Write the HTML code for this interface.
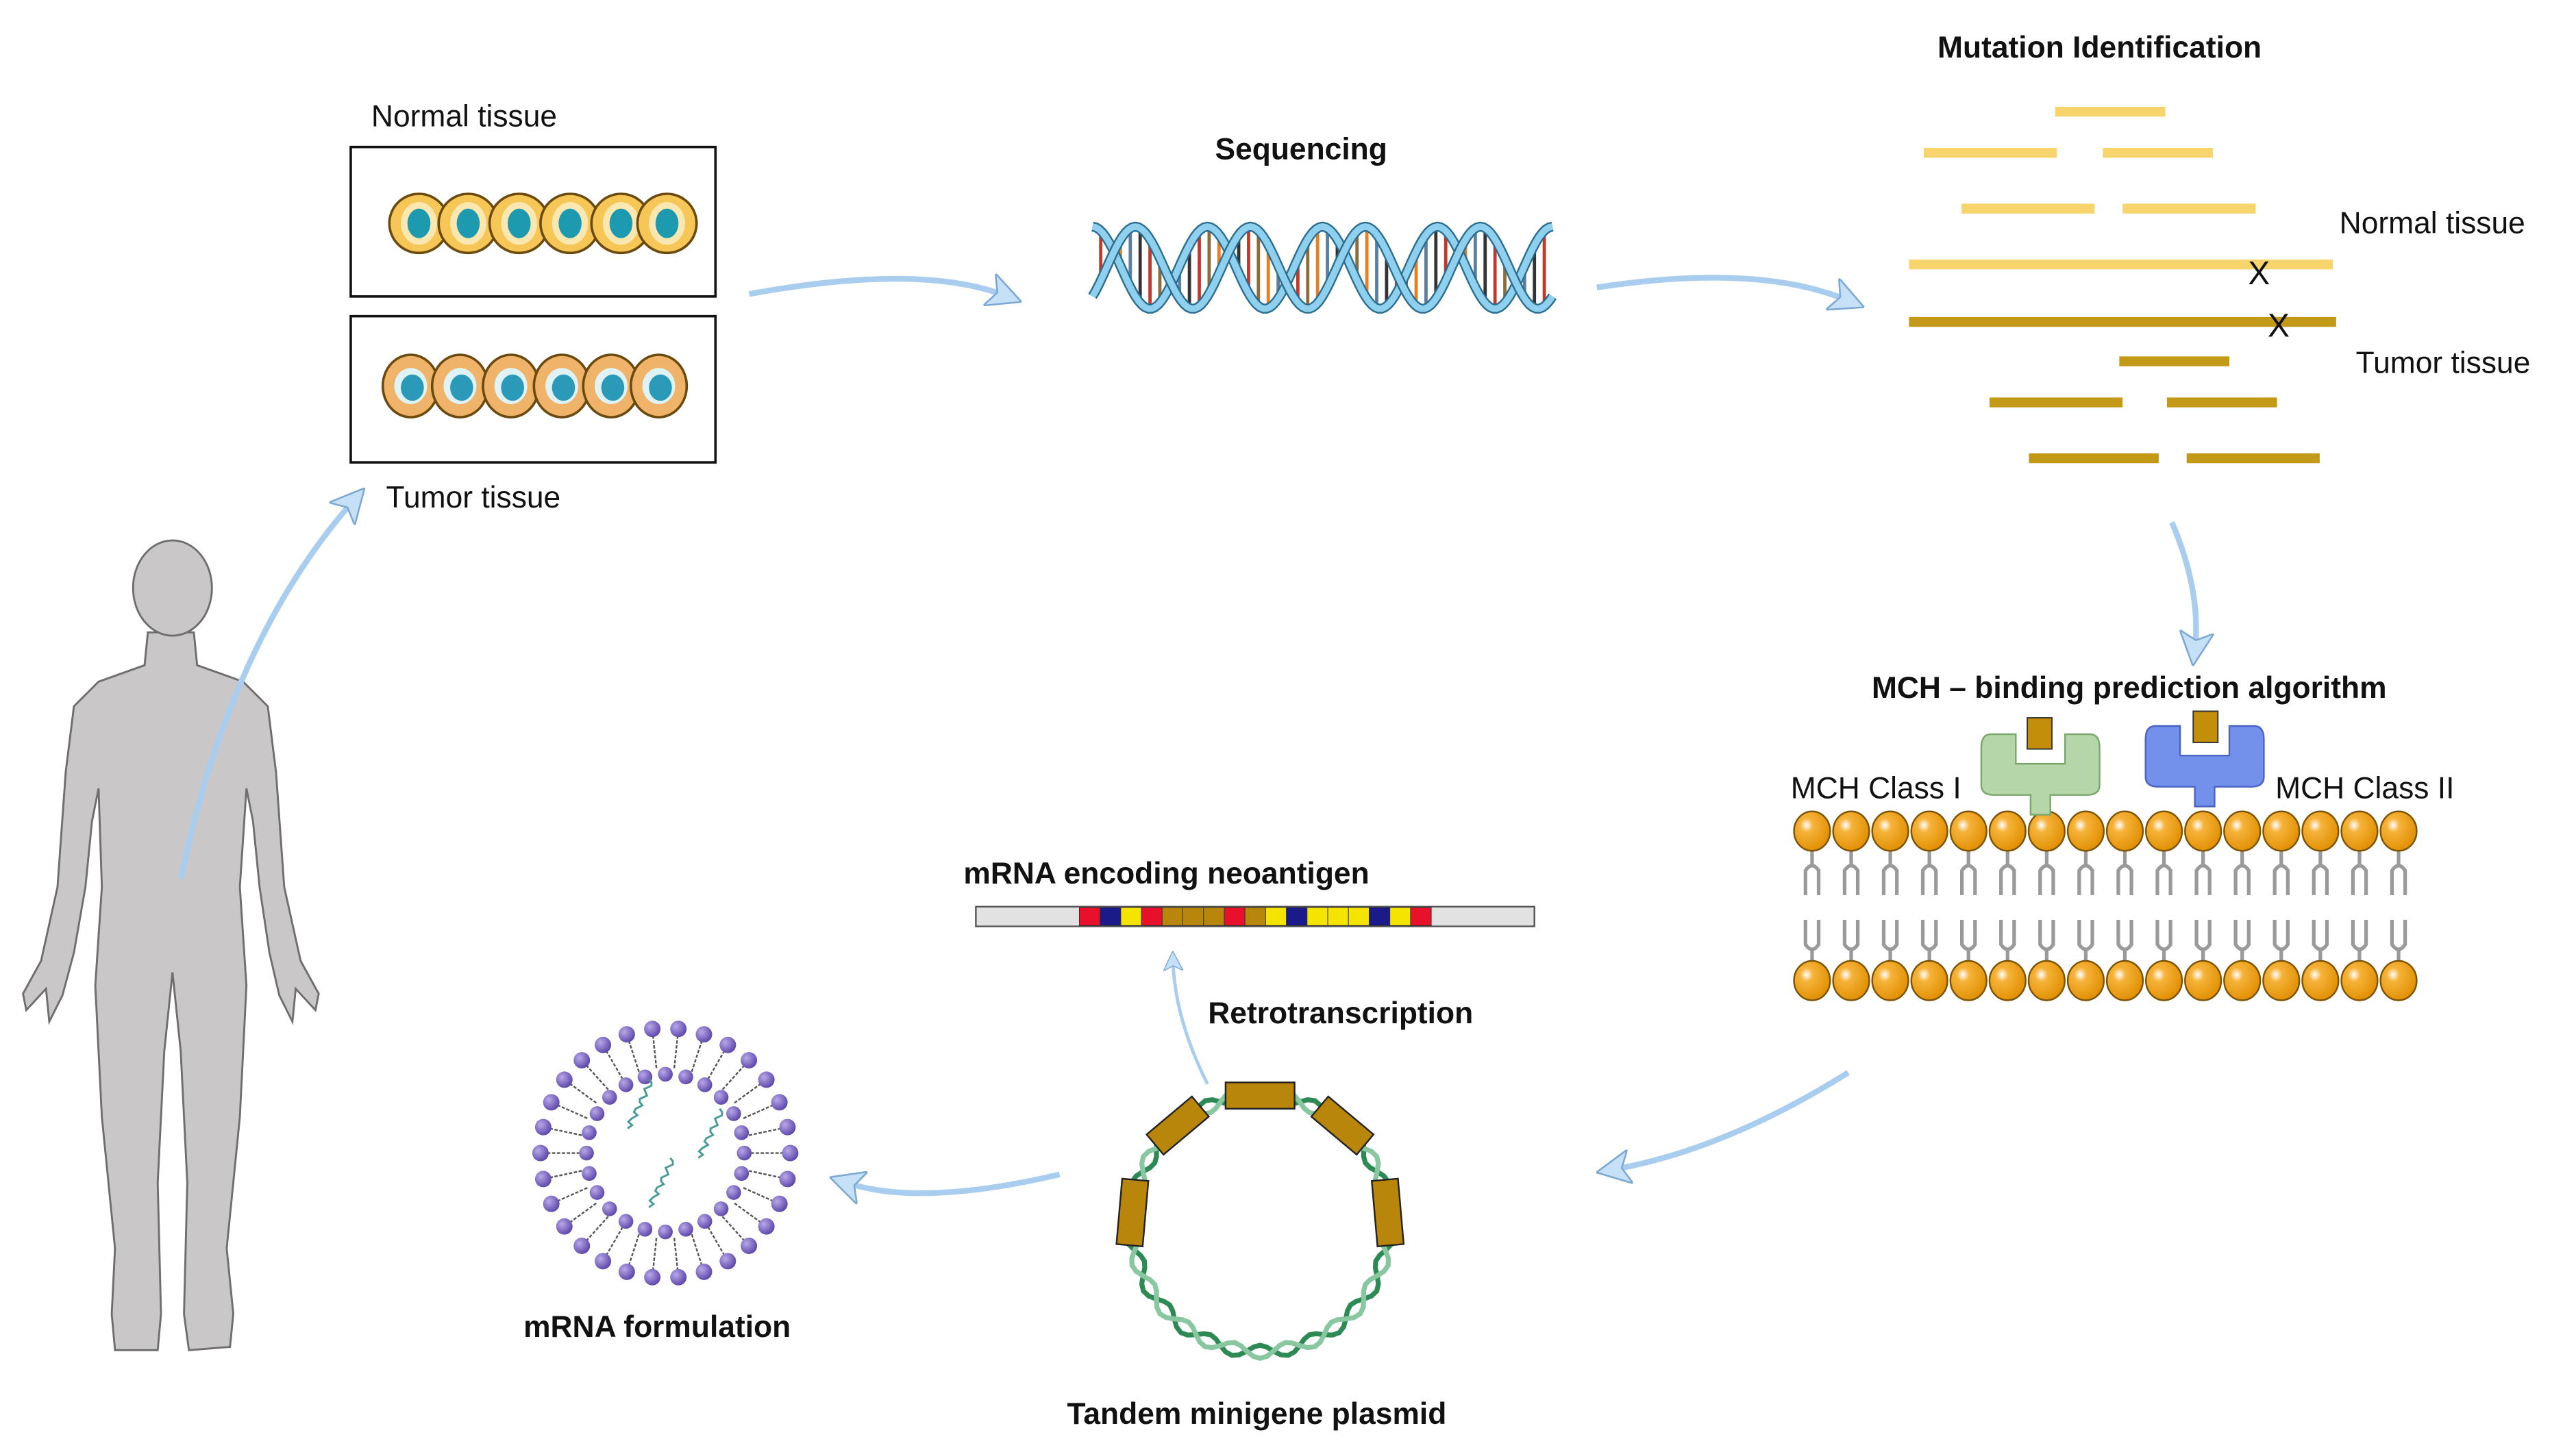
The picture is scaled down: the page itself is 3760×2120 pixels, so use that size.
<!DOCTYPE html>
<html><head><meta charset="utf-8"><style>
html,body{margin:0;padding:0;background:#fff}
svg{display:block}
text{font-family:"Liberation Sans",sans-serif;fill:#111}
.b{font-weight:bold;font-size:18.5px}
.n{font-size:18.5px}
</style></head><body>
<svg id="s" width="3760" height="2120" viewBox="0 0 1568 884" preserveAspectRatio="none" xmlns="http://www.w3.org/2000/svg">
<defs>
<marker id="ah" markerWidth="6" markerHeight="6" refX="3" refY="3" orient="auto" markerUnits="strokeWidth">
<path d="M0,0 L6,3 L0,6 L1.5,3 Z" fill="#c5e0f7" stroke="#7aa8d2" stroke-width="0.3"/></marker>
<radialGradient id="og" cx="0.35" cy="0.35" r="0.7"><stop offset="0" stop-color="#fff"/><stop offset="0.25" stop-color="#f6b33a"/><stop offset="1" stop-color="#e08e00"/></radialGradient>
<radialGradient id="pg" cx="0.35" cy="0.35" r="0.7"><stop offset="0" stop-color="#b8a8e8"/><stop offset="1" stop-color="#5a44a8"/></radialGradient>
</defs>

<g fill="#c9c7c7" stroke="#6e6e6e" stroke-width="1.2">
<path d="M90,385 L88,405 L60,415 L45,430 L40,470 L35,540 L25,585 L14,605 L16,615 L28,602 L30,622 L38,606 L45,580 L52,540 L56,500 L60,480 L62,540 L58,600 L62,680 L70,760 L68,800 L70,822 L96,822 L98,800 L96,720 L100,640 L105,592 L110,640 L114,720 L112,800 L115,822 L140,820 L142,800 L138,760 L146,680 L150,600 L146,540 L150,480 L154,500 L158,540 L164,580 L170,606 L178,622 L180,602 L192,615 L194,605 L183,585 L173,540 L168,470 L163,430 L148,415 L120,405 L118,385 Z"/>
<ellipse cx="105" cy="358" rx="24" ry="29"/>
</g>

<g fill="none" stroke="#a9cdee" stroke-width="3.5" marker-end="url(#ah)">
<path d="M110,535 Q140,390 215,305"/>
<path d="M456,179 Q560,160 612,180"/>
<path d="M972,175 Q1070,160 1125,183"/>
<path d="M1322,318 Q1340,360 1336,395"/>
<path d="M1125,653 Q1050,700 982,712"/>
<path d="M645,715 Q560,735 515,720"/>
<path d="M735,660 Q715,620 714,585" stroke-width="2"/>
</g>

<text x="226" y="77" class="n">Normal tissue</text>
<rect x="213.5" y="89.5" width="222" height="91" fill="#fff" stroke="#111" stroke-width="1.5"/>
<rect x="213.5" y="192.5" width="222" height="89" fill="#fff" stroke="#111" stroke-width="1.5"/>
<text x="235" y="309" class="n">Tumor tissue</text>
<g id="cells"></g>

<text x="792" y="97" class="b" text-anchor="middle">Sequencing</text>
<g id="dna"></g>

<text x="1278" y="35" class="b" text-anchor="middle">Mutation Identification</text>
<g stroke="#f8d46c" stroke-width="6">
<line x1="1251" y1="68" x2="1318" y2="68"/><line x1="1171" y1="93" x2="1252" y2="93"/><line x1="1280" y1="93" x2="1347" y2="93"/>
<line x1="1194" y1="127" x2="1275" y2="127"/><line x1="1292" y1="127" x2="1373" y2="127"/><line x1="1162" y1="161" x2="1420" y2="161"/>
</g>
<g stroke="#c39a17" stroke-width="6">
<line x1="1162" y1="196" x2="1422" y2="196"/><line x1="1290" y1="220" x2="1357" y2="220"/><line x1="1211" y1="245" x2="1292" y2="245"/>
<line x1="1319" y1="245" x2="1386" y2="245"/><line x1="1235" y1="279" x2="1314" y2="279"/><line x1="1331" y1="279" x2="1412" y2="279"/>
</g>
<text x="1375" y="173" class="n" text-anchor="middle" style="font-size:20px">X</text>
<text x="1387" y="205" class="n" text-anchor="middle" style="font-size:20px">X</text>
<text x="1424" y="142" class="n">Normal tissue</text>
<text x="1434" y="227" class="n">Tumor tissue</text>

<text x="1296" y="425" class="b" text-anchor="middle">MCH – binding prediction algorithm</text>
<text x="1090" y="486" class="n">MCH Class I</text>
<text x="1385" y="486" class="n">MCH Class II</text>
<g id="mem"></g>
<path d="M1212,447 h15 v18 h30 v-18 h15 q6,0 6,8 v23 q0,6 -8,6 h-22 v12 h-12 v-12 h-22 q-8,0 -8,-6 v-23 q0,-8 6,-8z" fill="#b5d6a8" stroke="#7aa86a"/>
<rect x="1234" y="437" width="15" height="19" fill="#c38f0a" stroke="#333" stroke-width="0.8"/>
<path d="M1312,442 h15 v18 h30 v-18 h15 q6,0 6,8 v23 q0,6 -8,6 h-22 v12 h-12 v-12 h-22 q-8,0 -8,-6 v-23 q0,-8 6,-8z" fill="#7390ea" stroke="#4a63c4"/>
<rect x="1335" y="433" width="15" height="19" fill="#c38f0a" stroke="#333" stroke-width="0.8"/>

<text x="710" y="538" class="b" text-anchor="middle">mRNA encoding neoantigen</text>
<rect x="594" y="552" width="340" height="12" fill="#e2e2e2" stroke="#555"/>
<g id="bar"></g>
<text x="816" y="623" class="b" text-anchor="middle">Retrotranscription</text>

<g id="pl"></g>
<text x="765" y="867" class="b" text-anchor="middle">Tandem minigene plasmid</text>

<g id="lip"></g>
<text x="400" y="814" class="b" text-anchor="middle">mRNA formulation</text>
</svg>
<script>
const NS="http://www.w3.org/2000/svg";
function el(p,t,a){const e=document.createElementNS(NS,t);for(const k in a)e.setAttribute(k,a[k]);document.getElementById(p).appendChild(e);return e;}
[255,285,316,347,378,406].forEach(x=>{el("cells","circle",{cx:x,cy:136,r:18,fill:"#f6c657",stroke:"#6b4a10","stroke-width":1.5});el("cells","ellipse",{cx:x,cy:136,rx:11,ry:13,fill:"#fbe7b0"});el("cells","ellipse",{cx:x,cy:136,rx:7,ry:9,fill:"#1d9ab0"});});
[250,280,311,342,372,401].forEach(x=>{el("cells","ellipse",{cx:x,cy:235,rx:17,ry:19,fill:"#f0b36a",stroke:"#6b4a10","stroke-width":1.5});el("cells","ellipse",{cx:x,cy:235,rx:10,ry:11,fill:"#dff2f6"});el("cells","ellipse",{cx:x+1,cy:236,rx:7,ry:8,fill:"#2a9ab8"});});
let d1="",d2="";for(let x=665;x<=945;x+=2){const t=(x-665)/70*2*Math.PI;d1+=(x==665?"M":"L")+x+","+(163-25*Math.cos(t));d2+=(x==665?"M":"L")+x+","+(163+25*Math.cos(t+0.8));}
const cols=["#c0392b","#8a6d3b","#e67e22","#5a7fa0","#333"];let i=0;
for(let x=670;x<945;x+=6){const t=(x-665)/70*2*Math.PI;el("dna","line",{x1:x,y1:163-25*Math.cos(t),x2:x,y2:163+25*Math.cos(t+0.8),stroke:cols[i++%5],"stroke-width":2});}
el("dna","path",{d:d1,fill:"none",stroke:"#2b6d8e","stroke-width":6});el("dna","path",{d:d1,fill:"none",stroke:"#8fd0ee","stroke-width":4});
el("dna","path",{d:d2,fill:"none",stroke:"#2b6d8e","stroke-width":6});el("dna","path",{d:d2,fill:"none",stroke:"#8fd0ee","stroke-width":4});
for(let k=0;k<16;k++){const x=1103+k*23.8;
 el("mem","path",{d:`M${x},518 v8 M${x-4},545 v-15 q4,-6 8,0 v15 M${x-4},560 v15 q4,6 8,0 v-15 M${x},578 v7`,fill:"none",stroke:"#9a9a9a","stroke-width":2.2});
 el("mem","ellipse",{cx:x,cy:506,rx:11,ry:12,fill:"url(#og)",stroke:"#7a5200","stroke-width":1});
 el("mem","ellipse",{cx:x,cy:597,rx:11,ry:12,fill:"url(#og)",stroke:"#7a5200","stroke-width":1});}
const bc=["#e8102a","#1a1a8a","#f5e400","#e8102a","#b8860b","#b8860b","#b8860b","#e8102a","#b8860b","#f5e400","#1a1a8a","#f5e400","#f5e400","#f5e400","#1a1a8a","#f5e400","#e8102a"];
bc.forEach((c,j)=>el("bar","rect",{x:657+j*12.6,y:552.5,width:12.6,height:11,fill:c,stroke:"#333","stroke-width":0.4}));
let p1="",p2="";for(let a=0;a<=360;a+=3){const r=a*Math.PI/180,w=4*Math.sin(a*Math.PI/12);const x1=767+(78+w)*Math.cos(r),y1=745+(78+w)*Math.sin(r),x2=767+(78-w)*Math.cos(r),y2=745+(78-w)*Math.sin(r);p1+=(a?"L":"M")+x1+","+y1;p2+=(a?"L":"M")+x2+","+y2;}
el("pl","path",{d:p1,fill:"none",stroke:"#2e8a55","stroke-width":3});el("pl","path",{d:p2,fill:"none",stroke:"#88c7a0","stroke-width":3});
[[-90,42],[-130,36],[-50,36],[-175,40],[-5,40]].forEach(([a,l])=>{const r=a*Math.PI/180,x=767+78*Math.cos(r),y=745+78*Math.sin(r);el("pl","rect",{x:-l/2,y:-8,width:l,height:16,fill:"#b8860b",stroke:"#222","stroke-width":1,transform:`translate(${x},${y}) rotate(${a+90})`});});
for(let k=0;k<30;k++){const a=k*12*Math.PI/180,c=Math.cos(a),s=Math.sin(a);
 el("lip","line",{x1:405+52*c,y1:702+52*s,x2:405+72*c,y2:702+72*s,stroke:"#555","stroke-width":1,"stroke-dasharray":"2 1"});
 el("lip","circle",{cx:405+76*c,cy:702+76*s,r:5,fill:"url(#pg)"});}
for(let k=0;k<24;k++){const a=k*15*Math.PI/180;el("lip","circle",{cx:405+48*Math.cos(a),cy:702+48*Math.sin(a),r:4.5,fill:"url(#pg)"});}
[[382,672],[425,690],[395,720]].forEach(([x,y])=>{let d="M"+x+","+(y+15);for(let t=0;t<=30;t+=2)d+=" L"+(x+t*0.5+2*Math.sin(t))+","+(y+15-t);el("lip","path",{d:d,fill:"none",stroke:"#4a9a9a","stroke-width":1.2});});
</script>
</body></html>
